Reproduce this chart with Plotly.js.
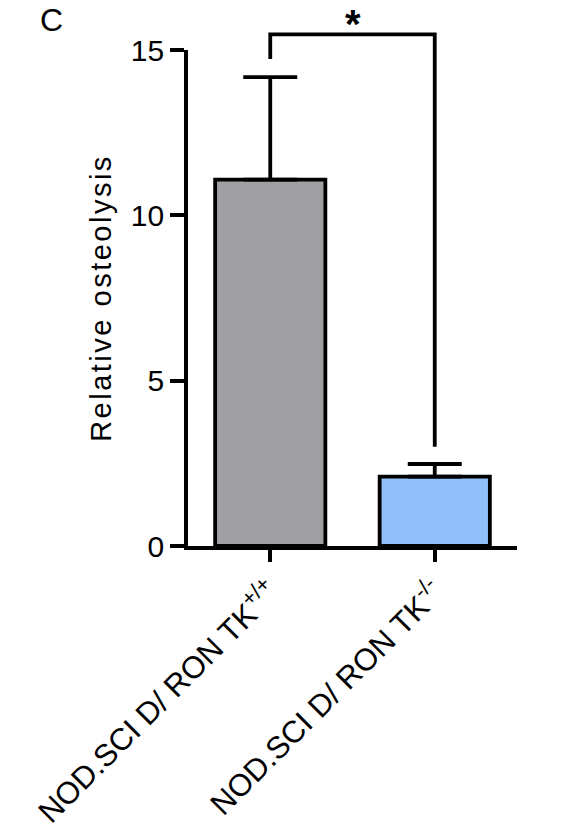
<!DOCTYPE html>
<html><head><meta charset="utf-8">
<script src="https://cdn.plot.ly/plotly-3.0.1.min.js"></script>
<style>
html,body{margin:0;padding:0;background:#fff;}
#chart{width:577px;height:835px;}
#chart text.ytitle{letter-spacing:2.5px;}
</style>
</head><body><div id="chart"></div>
<script>
// Data
const categories = ["NOD.SCI D/ RON TK<sup>+/+</sup>", "NOD.SCI D/ RON TK<sup>-/-</sup>"];
const meanValues = [11.08, 2.1];
const errorPlus = [3.1, 0.38];
const barColors = ["#A0A0A4", "#91BFF9"];
const yTickValues = [0, 5, 10, 15];
const yTickLabels = ["0", "5", "10", "15"];
const yRange = [0, 15];
// significance bracket (data units)
const bracketTop = 15.47;
const bracketLeftEnd = 14.73;
const bracketRightEnd = 3.0;
const sigLabel = "*";

const font = "Liberation Sans, Arial, sans-serif";
const toPaper = v => (v - yRange[0]) / (yRange[1] - yRange[0]);

const trace = {
  type: "bar",
  x: [0, 1],
  y: meanValues,
  width: 0.67,
  marker: {color: barColors, line: {color: "#000", width: 3.8}},
  error_y: {type: "data", symmetric: false, array: errorPlus, arrayminus: [0, 0],
            color: "#000", thickness: 3.8, width: 27},
  hoverinfo: "none"
};

const layout = {
  width: 577, height: 835,
  margin: {l: 188, r: 60, t: 50, b: 289},
  paper_bgcolor: "#fff", plot_bgcolor: "#fff",
  showlegend: false,
  font: {family: font, color: "#000", size: 30},
  xaxis: {
    range: [-0.5, 1.5],
    tickvals: [0, 1], ticktext: categories,
    tickangle: -45,
    showline: true, linecolor: "#000", linewidth: 3.8,
    ticks: "outside", ticklen: 12, tickwidth: 3.8, tickcolor: "#000",
    showgrid: false, zeroline: false,
    tickfont: {family: font, size: 31, color: "#000"}
  },
  yaxis: {
    range: yRange,
    tickvals: yTickValues, ticktext: yTickLabels,
    showline: true, linecolor: "#000", linewidth: 3.8,
    ticks: "outside", ticklen: 14, tickwidth: 3.8, tickcolor: "#000",
    showgrid: false, zeroline: false,
    tickfont: {family: font, size: 30, color: "#000"},
    title: {text: "Relative osteolysis", font: {family: font, size: 29, color: "#000"}, standoff: 12}
  },
  shapes: [{
    type: "path", xref: "x", yref: "paper",
    path: "M 0," + toPaper(bracketLeftEnd) + " L 0," + toPaper(bracketTop) +
          " L 1," + toPaper(bracketTop) + " L 1," + toPaper(bracketRightEnd),
    line: {color: "#000", width: 3.8}
  }],
  annotations: [
    {text: "<b>" + sigLabel + "</b>", xref: "x", yref: "paper", x: 0.5, y: toPaper(bracketTop), yanchor: "bottom",
     showarrow: false, font: {family: font, size: 40, color: "#000"}, yshift: -14},
    {text: "C", xref: "paper", yref: "paper", x: -0.455, y: 1.1, xanchor: "left", yanchor: "top",
     showarrow: false, font: {family: font, size: 32, color: "#000"}}
  ]
};

Plotly.newPlot("chart", [trace], layout, {staticPlot: true});
</script></body></html>
